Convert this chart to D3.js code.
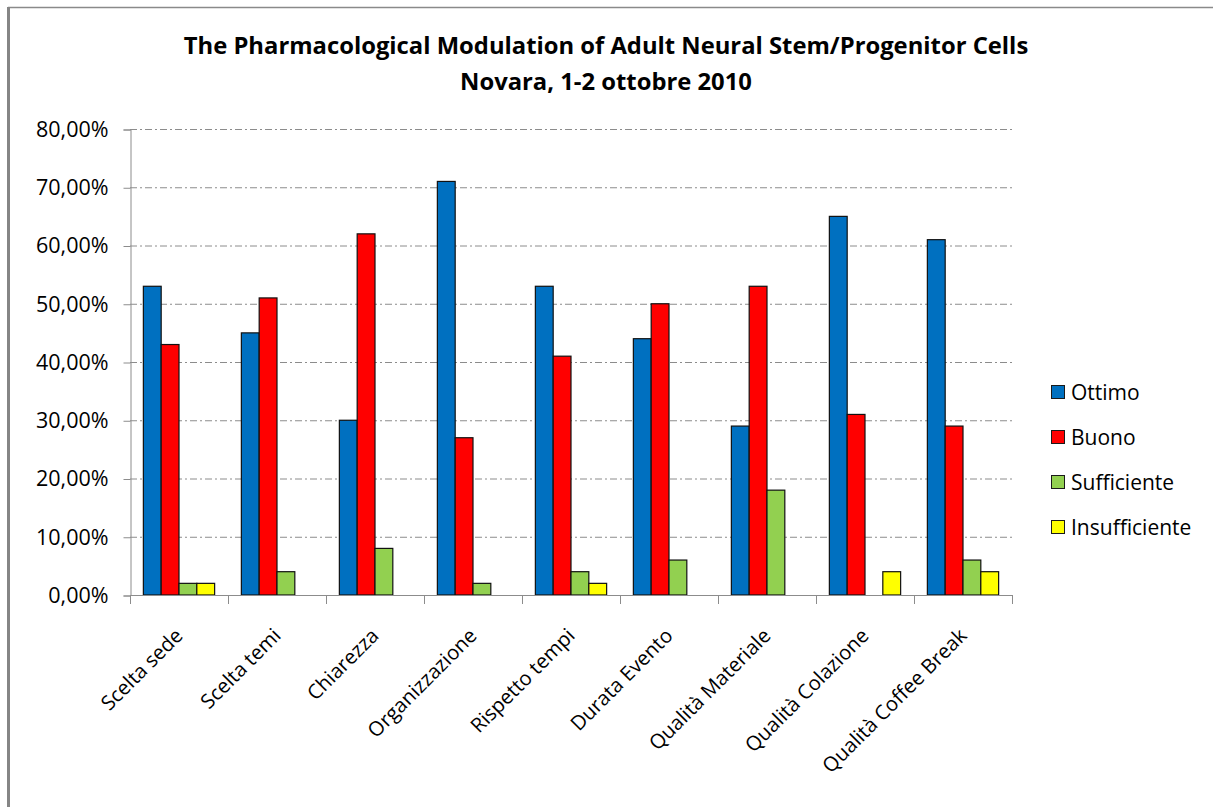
<!DOCTYPE html>
<html>
<head>
<meta charset="utf-8">
<script src="https://cdn.jsdelivr.net/npm/d3@7"></script>
<style>
  body { margin: 0; background: #fff; }
  text { font-family: "Open Sans", sans-serif; fill: #000; }
</style>
</head>
<body>
<div id="chart"></div>
<script>
// survey categories (x axis)
let categories = ["Scelta sede", "Scelta temi", "Chiarezza", "Organizzazione", "Rispetto tempi",
    "Durata Evento", "Qualità Materiale", "Qualità Colazione", "Qualità Coffee Break"];

// one array per rating, values in percent
let seriesNames = ["Ottimo", "Buono", "Sufficiente", "Insufficiente"];
let seriesColors = ["#0070C0", "#FF0000", "#92D050", "#FFFF00"];
let ottimo = [53, 45, 30, 71, 53, 44, 29, 65, 61];
let buono = [43, 51, 62, 27, 41, 50, 53, 31, 29];
let sufficiente = [2, 4, 8, 2, 4, 6, 18, 0, 6];
let insufficiente = [2, 0, 0, 0, 2, 0, 0, 4, 4];

let yTicks = [0, 10, 20, 30, 40, 50, 60, 70, 80];
let titleLines = ["The Pharmacological Modulation of Adult Neural Stem/Progenitor Cells",
    "Novara, 1-2 ottobre 2010"];

let width = 1213, height = 807;
let plot = {left: 130, right: 1012, top: 129, bottom: 595};

let seriesValues = [ottimo, buono, sufficiente, insufficiente];

let svg = d3.select("#chart").append("svg")
    .attr("width", width)
    .attr("height", height);

// frame of the pasted chart (top + left edge only visible)
svg.append("line")
    .attr("x1", 8).attr("x2", width).attr("y1", 7.5).attr("y2", 7.5)
    .attr("stroke", "#8a8a8a").attr("stroke-width", 1.5);
svg.append("line")
    .attr("x1", 8.5).attr("x2", 8.5).attr("y1", 7).attr("y2", height)
    .attr("stroke", "#858585").attr("stroke-width", 3);

// title
svg.selectAll(".title")
    .data(titleLines)
    .enter().append("text")
    .attr("class", "title")
    .attr("x", 606)
    .attr("y", function (d, i) { return 54 + i * 36; })
    .attr("text-anchor", "middle")
    .style("font-size", "23.8px")
    .style("font-weight", "bold")
    .text(function (d) { return d; });

// scales
let x = d3.scaleBand()
    .domain(categories)
    .range([plot.left, plot.right])
    .paddingInner(0).paddingOuter(0);

// gap width 150% like excel -> 0.75 bar on each side
let xSub = d3.scaleBand()
    .domain(seriesNames)
    .range([0, x.bandwidth()])
    .paddingInner(0).paddingOuter(0.75);

let y = d3.scaleLinear()
    .domain([0, 80])
    .range([plot.bottom, plot.top]);

// grid lines (dash-dot)
svg.append("g")
    .selectAll("line")
    .data(yTicks.filter(function (t) { return t > 0; }))
    .enter().append("line")
    .attr("x1", plot.left).attr("x2", plot.right)
    .attr("y1", function (d) { return y(d) + 0.5; })
    .attr("y2", function (d) { return y(d) + 0.5; })
    .attr("stroke", "#8c8c8c")
    .attr("stroke-width", 1)
    .attr("stroke-dasharray", "7,3,2,3");

// y axis
let yAxis = svg.append("g")
    .attr("transform", "translate(" + (plot.left + 0.5) + ",0.5)")
    .call(d3.axisLeft(y)
        .tickValues(yTicks)
        .tickSize(7)
        .tickPadding(15)
        .tickFormat(function (d) { return d3.format(".2f")(d).replace(".", ",") + "%"; }));
yAxis.select(".domain").attr("stroke", "#8c8c8c");
yAxis.selectAll(".tick line").attr("stroke", "#8c8c8c");
yAxis.selectAll(".tick text")
    .style("font-size", "21.5px")
    .style("font-family", "'Open Sans', sans-serif")
    .attr("fill", "#000");

// bars
let groups = svg.append("g")
    .selectAll("g")
    .data(seriesNames)
    .enter().append("g")
    .attr("fill", function (d, i) { return seriesColors[i]; });

groups.selectAll("rect")
    .data(function (s, i) {
        return categories.map(function (c, j) { return {cat: c, series: s, value: seriesValues[i][j]}; })
            .filter(function (d) { return d.value > 0; });
    })
    .enter().append("rect")
    .attr("x", function (d) { return x(d.cat) + xSub(d.series); })
    .attr("y", function (d) { return y(d.value); })
    .attr("width", xSub.bandwidth())
    .attr("height", function (d) { return plot.bottom - y(d.value); })
    .attr("stroke", "#111")
    .attr("stroke-width", 1.2);

// x axis line + ticks at category boundaries
svg.append("line")
    .attr("x1", plot.left).attr("x2", plot.right)
    .attr("y1", plot.bottom + 0.5).attr("y2", plot.bottom + 0.5)
    .attr("stroke", "#8c8c8c");

let boundaries = categories.map(function (c) { return x(c); }).concat([plot.right]);
svg.append("g")
    .selectAll("line")
    .data(boundaries)
    .enter().append("line")
    .attr("x1", function (d) { return Math.round(d) + 0.5; })
    .attr("x2", function (d) { return Math.round(d) + 0.5; })
    .attr("y1", plot.bottom)
    .attr("y2", plot.bottom + 9)
    .attr("stroke", "#8c8c8c");

// rotated category labels
svg.append("g")
    .selectAll("text")
    .data(categories)
    .enter().append("text")
    .attr("transform", function (d) {
        return "translate(" + (x(d) + x.bandwidth() / 2 + 5) + "," + (plot.bottom + 42) + ") rotate(-45)";
    })
    .attr("text-anchor", "end")
    .style("font-size", "20.2px")
    .text(function (d) { return d; });

// legend
let legend = svg.append("g")
    .selectAll("g")
    .data(seriesNames)
    .enter().append("g")
    .attr("transform", function (d, i) { return "translate(1051," + (392 + i * 45) + ")"; });

legend.append("rect")
    .attr("x", 0.5).attr("y", -6.5)
    .attr("width", 13).attr("height", 13)
    .attr("fill", function (d, i) { return seriesColors[i]; })
    .attr("stroke", "#1a1a1a");

legend.append("text")
    .attr("x", 20)
    .attr("y", 7.5)
    .style("font-size", "21px")
    .text(function (d) { return d; });
</script>
</body>
</html>
